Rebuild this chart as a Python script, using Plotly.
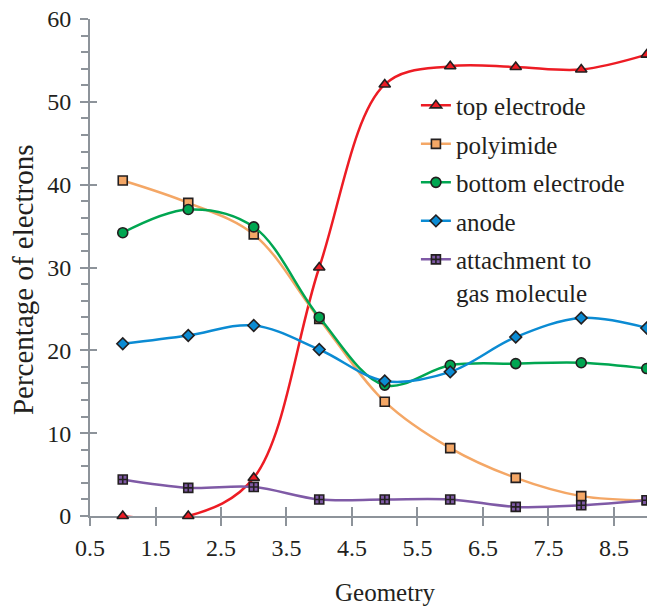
import plotly.graph_objects as go

geometry = [1, 2, 3, 4, 5, 6, 7, 8, 9]
top_electrode = [0.0, 0.0, 4.6, 30.0, 52.1, 54.3, 54.2, 53.9, 55.7]
polyimide = [40.5, 37.8, 34.0, 23.8, 13.8, 8.2, 4.6, 2.4, 1.9]
bottom_electrode = [34.2, 37.0, 34.9, 24.0, 15.8, 18.2, 18.4, 18.5, 17.8]
anode = [20.8, 21.8, 23.0, 20.1, 16.3, 17.4, 21.6, 23.9, 22.7]
attachment = [4.4, 3.4, 3.5, 2.0, 2.0, 2.0, 1.1, 1.3, 1.9]

series = [
    ("top electrode", top_electrode, "#ed1c24", "triangle-up", 10),
    ("polyimide", polyimide, "#f4a766", "square", 9),
    ("bottom electrode", bottom_electrode, "#00a651", "circle", 10),
    ("anode", anode, "#0b8bd3", "diamond", 9),
    ("attachment to<br>gas molecule", attachment, "#7f5aa6", "square-cross", 9),
]

FONT = "Times New Roman"
AX = "#8d939a"

fig = go.Figure()
for i, (name, vals, col, sym, sz) in enumerate(series):
    fig.add_trace(go.Scatter(
        x=geometry, y=vals, name=name, mode="lines+markers",
        line=dict(color=col, width=2.5, shape="spline", smoothing=1.0),
        marker=dict(symbol=sym, size=sz, color=col, line=dict(color="#231f20", width=1.6)),
        legendgroup=f"g{i}", cliponaxis=False,
    ))

# overlay axes for the inward half of the crossing ticks
fig.add_trace(go.Scatter(x=[], y=[], xaxis="x2", yaxis="y2", showlegend=False))

fig.update_layout(
    template="none",
    width=655, height=606,
    margin=dict(l=82, r=13, t=11, b=98, autoexpand=False),
    paper_bgcolor="white", plot_bgcolor="white",
    font=dict(family=FONT, size=24, color="#231f20"),
    showlegend=True,
    legend=dict(x=0.582, y=0.872, xanchor="left", yanchor="top",
                font=dict(family="Liberation Serif, serif", size=25, color="#231f20"),
                traceorder="grouped", tracegroupgap=3, valign="top",
                itemwidth=30, bgcolor="rgba(0,0,0,0)", borderwidth=0),
    xaxis=dict(range=[0.5, 9.05], tick0=0.5, dtick=1, showgrid=False, zeroline=False,
               automargin=False, layer="below traces", ticklabeloverflow="allow",
               showline=True, linecolor=AX, linewidth=2,
               ticks="outside", ticklen=8, tickwidth=2, tickcolor=AX,
               ticklabelstandoff=1),
    yaxis=dict(range=[0, 60], dtick=10, showgrid=False, zeroline=False,
               automargin=False, layer="below traces", ticklabeloverflow="allow",
               showline=True, linecolor=AX, linewidth=2,
               ticks="outside", ticklen=8, tickwidth=2, tickcolor=AX,
               minor=dict(dtick=2, ticks="outside", ticklen=7, tickwidth=2, tickcolor=AX, showgrid=False),
               ticklabelstandoff=4),
    xaxis2=dict(overlaying="x", anchor="y2", range=[0.5, 9.05], tick0=0.5, dtick=1,
                automargin=False, layer="below traces",
                showgrid=False, zeroline=False, showline=False, showticklabels=False,
                ticks="inside", ticklen=9, tickwidth=2, tickcolor=AX),
    yaxis2=dict(overlaying="y", anchor="x2", range=[0, 60], dtick=10,
                automargin=False, layer="below traces",
                showgrid=False, zeroline=False, showline=False, showticklabels=False,
                ticks="inside", ticklen=7, tickwidth=2, tickcolor=AX),
    annotations=[
        dict(text="Percentage of electrons", textangle=-90, xref="paper", yref="paper",
             x=-0.1196, y=0.4748, xanchor="center", yanchor="middle", showarrow=False,
             font=dict(family=FONT, size=29, color="#231f20")),
        dict(text="Geometry", xref="paper", yref="paper",
             x=0.527, y=-0.153, xanchor="center", yanchor="middle", showarrow=False,
             font=dict(family=FONT, size=25, color="#231f20")),
    ],
)

fig.write_html("out.html")
